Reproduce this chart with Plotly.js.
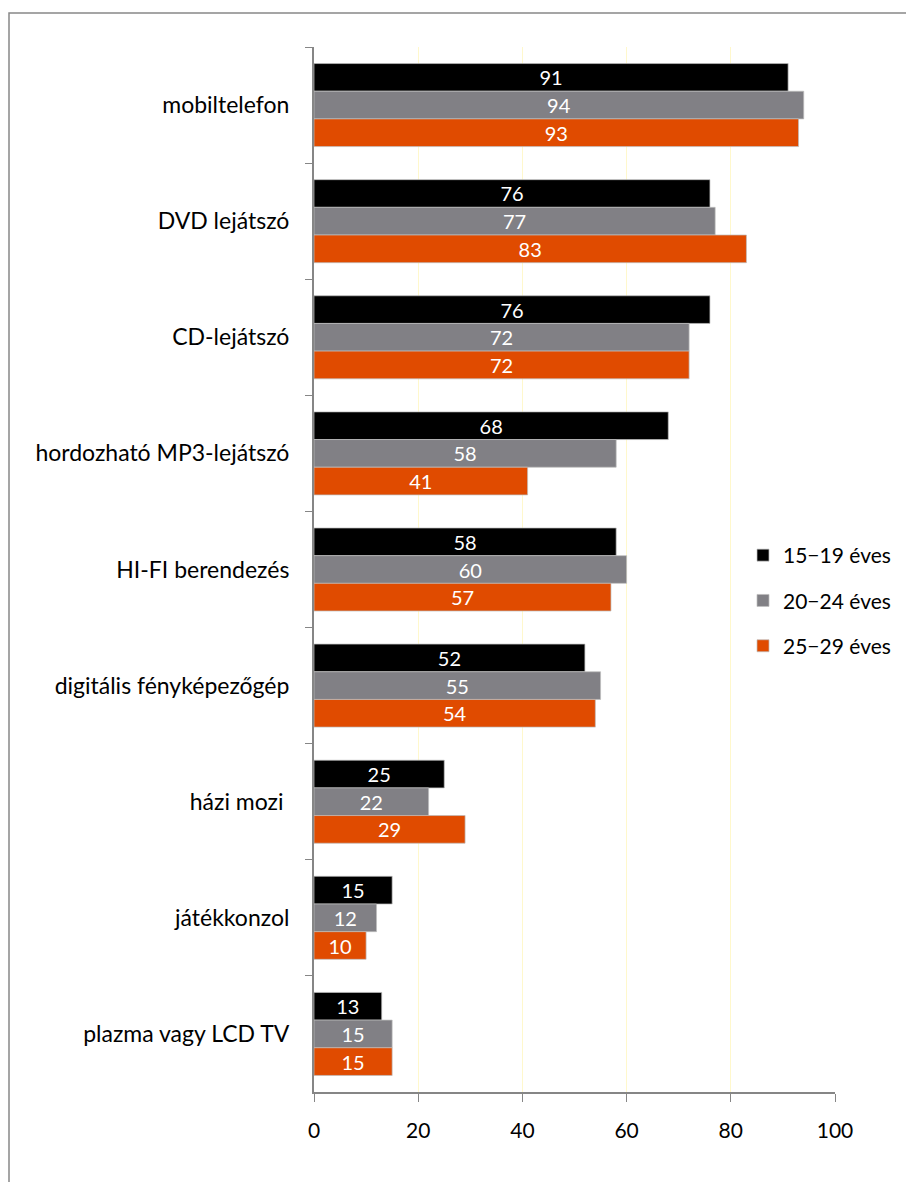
<!DOCTYPE html>
<html><head><meta charset="utf-8">
<script src="https://cdn.plot.ly/plotly-3.0.1.min.js"></script>
<style>body{margin:0;padding:0;background:#fff}#c{width:906px;height:1182px}</style>
</head><body><div id="c"></div>
<script>
const categories = ["mobiltelefon","DVD lejátszó","CD-lejátszó","hordozható MP3-lejátszó","HI-FI berendezés","digitális fényképezőgép","házi mozi\u00a0","játékkonzol","plazma vagy LCD TV"];
const seriesNames = ["15\u221219 éves","20\u221224 éves","25\u221229 éves"];
const age15_19 = [91,76,76,68,58,52,25,15,13];
const age20_24 = [94,77,72,58,60,55,22,12,15];
const age25_29 = [93,83,72,41,57,54,29,10,15];
const xTicks = [0,20,40,60,80,100];

const colors = ["#000000","#818085","#E04B00"];
const FONT = "Lato, sans-serif";
const data = [age15_19, age20_24, age25_29].map((vals,i)=>({
  type:"bar", orientation:"h", name:seriesNames[i], legendgroup:"g"+i, x:vals, y:categories,
  marker:{color:colors[i], line:{color:"rgba(190,190,190,0.9)", width:0.8}},
  text:vals.map(String), textposition:"inside", insidetextanchor:"middle", textangle:0,
  textfont:{color:"#ffffff", size:20, family:FONT}, constraintext:"none",
  hoverinfo:"none", cliponaxis:false
}));

const L=314, R=835, T=47, B=1092;
const pw=R-L, ph=B-T;
const px=v=>(v-L)/pw, py=v=>(B-v)/ph;

const layout = {
  width:906, height:1182,
  margin:{l:L, r:906-R, t:T, b:1182-B, pad:0, autoexpand:false},
  paper_bgcolor:"#fff", plot_bgcolor:"#fff",
  barmode:"group", bargap:0.285, bargroupgap:0,
  font:{family:FONT, color:"#000"},
  showlegend:true,
  legend:{x:px(743), y:py(535), xanchor:"left", yanchor:"top",
    font:{size:21, family:FONT, color:"#000"}, itemwidth:30, tracegroupgap:15,
    bgcolor:"rgba(0,0,0,0)", traceorder:"grouped"},
  xaxis:{range:[0,100], tickvals:xTicks, ticktext:xTicks.map(String), showgrid:true,
    gridcolor:"#FFF8CC", gridwidth:1.2, zeroline:false, showline:true,
    linecolor:"#868686", linewidth:2, ticks:"outside", ticklen:8, tickcolor:"#868686",
    tickwidth:1, ticklabelstandoff:11, tickfont:{size:21, family:FONT, color:"#000"}, fixedrange:true},
  yaxis:{type:"category", autorange:"reversed", showline:true, linecolor:"#868686", linewidth:2,
    ticks:"outside", tickson:"boundaries", ticklen:7, tickcolor:"#868686", tickwidth:1,
    showgrid:false, zeroline:false, ticklabelstandoff:18,
    tickfont:{size:23, family:FONT, color:"#000"}, fixedrange:true},
  shapes:[{type:"rect", xref:"paper", yref:"paper",
    x0:px(9), x1:px(912), y0:py(1192), y1:py(13),
    line:{color:"#888888", width:1.5}, fillcolor:"rgba(0,0,0,0)", layer:"below"}]
};
Plotly.newPlot("c", data, layout, {staticPlot:true, displayModeBar:false});
</script></body></html>
